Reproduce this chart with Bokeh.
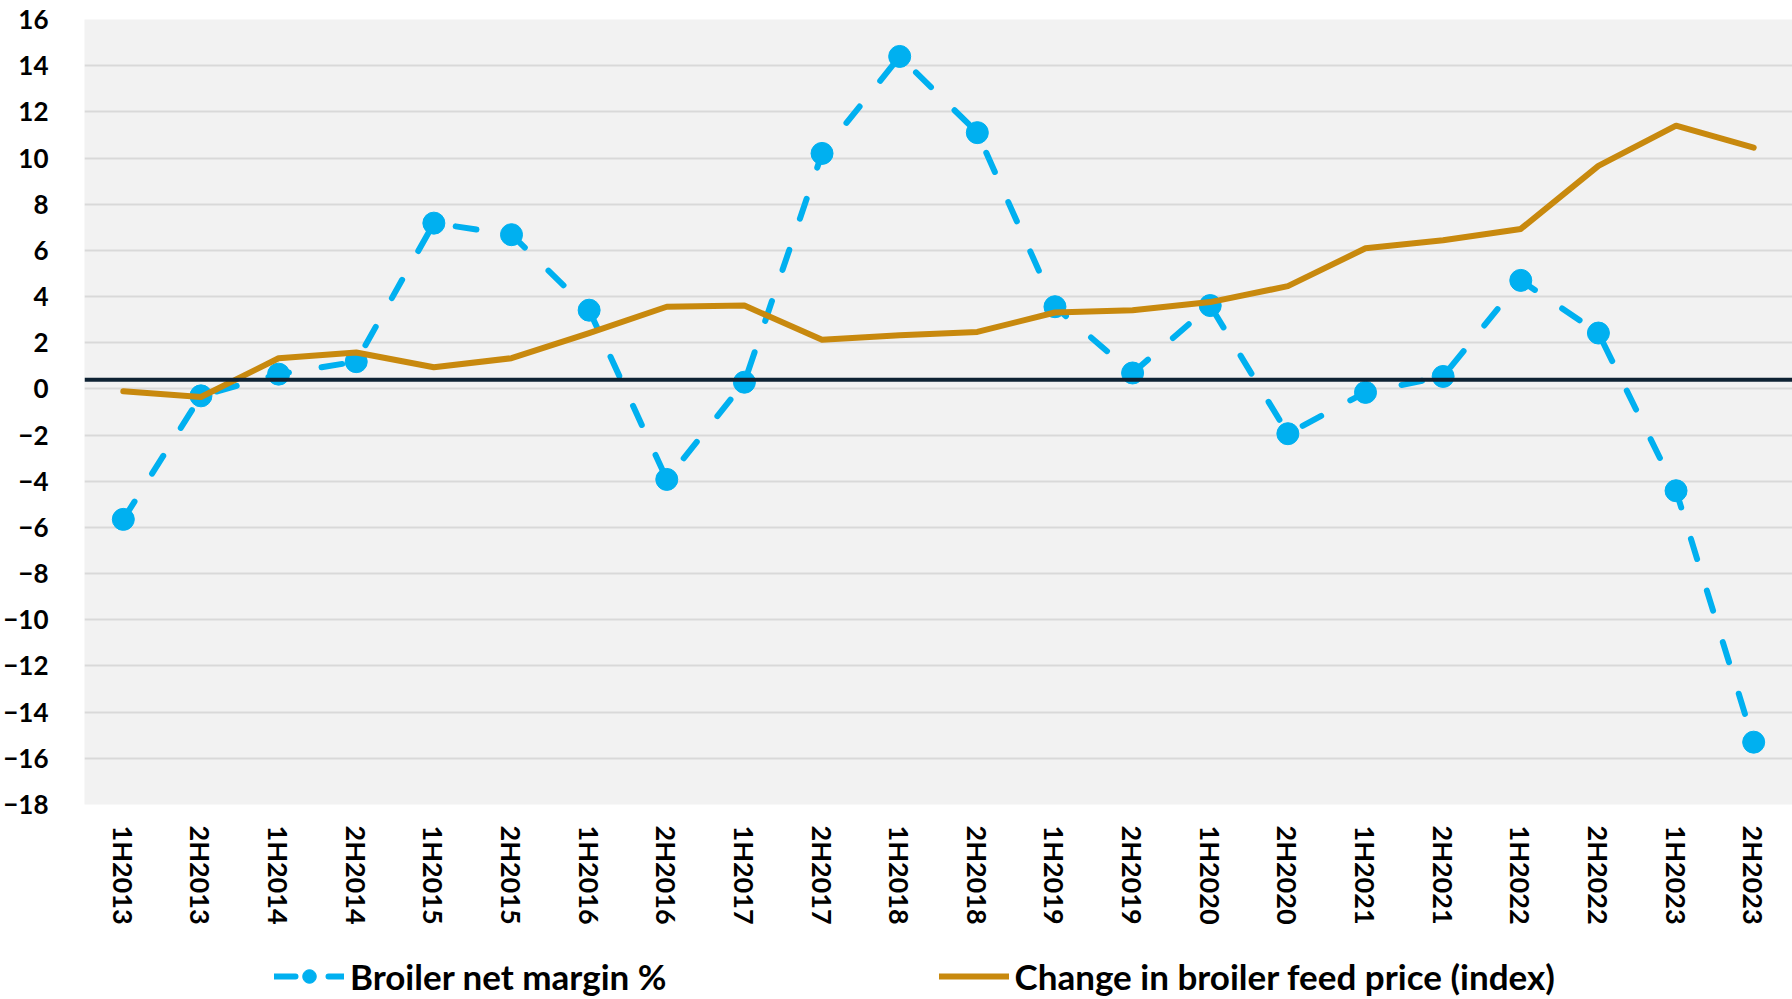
from bokeh.plotting import figure
from bokeh.layouts import column
from bokeh.models import ColumnDataSource, Span, Legend, LegendItem, FactorRange, FixedTicker
from bokeh.embed import file_html
from bokeh.resources import INLINE

periods = ["1H2013", "2H2013", "1H2014", "2H2014", "1H2015", "2H2015", "1H2016", "2H2016",
           "1H2017", "2H2017", "1H2018", "2H2018", "1H2019", "2H2019", "1H2020", "2H2020",
           "1H2021", "2H2021", "1H2022", "2H2022", "1H2023", "2H2023"]
net_margin = [-5.65, -0.3, 0.64, 1.18, 7.18, 6.68, 3.41, -3.92, 0.29, 10.2, 14.4, 11.1,
              3.56, 0.69, 3.61, -1.94, -0.15, 0.54, 4.70, 2.42, -4.41, -15.3]
feed_price = [-0.1, -0.35, 1.33, 1.58, 0.94, 1.33, 2.42, 3.56, 3.61, 2.13, 2.32, 2.47,
              3.31, 3.41, 3.76, 4.45, 6.09, 6.44, 6.93, 9.66, 11.4, 10.45]
reference_level = 0.4
y_ticks = list(range(-18, 17, 2))
series_names = ["Broiler net margin %", "Change in broiler feed price (index)"]

BLUE = "#00B0F0"
ORANGE = "#C8890E"
FONT = "Lato"
DASH = "21 33"

src = ColumnDataSource(dict(period=periods, margin=net_margin, feed=feed_price))

p = figure(frame_width=1708, frame_height=785, x_range=FactorRange(*periods, range_padding=0),
           y_range=(-18, 16), output_backend="svg", toolbar_location=None,
           min_border_left=82, min_border_right=2, min_border_top=19, min_border_bottom=136)
p.background_fill_color = "#F2F2F2"
p.border_fill_color = "white"
p.outline_line_color = None

p.ygrid.ticker = FixedTicker(ticks=y_ticks)
p.yaxis.ticker = FixedTicker(ticks=y_ticks)
p.ygrid.grid_line_color = "#D9D9D9"
p.ygrid.grid_line_width = 2
p.xgrid.grid_line_color = None

for ax in (p.xaxis[0], p.yaxis[0]):
    ax.axis_line_color = None
    ax.major_tick_line_color = None
    ax.minor_tick_line_color = None
    ax.major_label_text_font = FONT
    ax.major_label_text_font_style = "bold"
    ax.major_label_text_color = "black"
p.yaxis.major_label_text_font_size = "26px"
p.yaxis.major_label_standoff = 30
p.xaxis.major_label_text_font_size = "27px"
p.xaxis.major_label_orientation = "vertical"
p.xaxis.major_label_standoff = 15

p.add_layout(Span(location=reference_level, dimension="width", line_color="#0E2233", line_width=4))

p.line("period", "margin", source=src, line_color=BLUE, line_width=6,
       line_dash=DASH, line_cap="round")
p.scatter("period", "margin", source=src, size=22, fill_color=BLUE, line_color=BLUE)
p.line("period", "feed", source=src, line_color=ORANGE, line_width=6, line_join="round",
       line_cap="round")

# legend strip below the chart (renderers hold no drawable data; they only supply legend glyphs)
lg = figure(width=1792, height=59, output_backend="svg", toolbar_location=None,
            min_border=0, x_axis_type=None, y_axis_type=None, x_range=(0, 1), y_range=(0, 1))
lg.outline_line_color = None
lg.grid.visible = False
lg.background_fill_color = "white"
nodata = ColumnDataSource(dict(x=[float("nan")], y=[float("nan")]))
r1 = lg.line("x", "y", source=nodata, line_color=BLUE, line_width=6, line_dash=DASH, line_cap="round")
r2 = lg.scatter("x", "y", source=nodata, size=22, fill_color=BLUE, line_color=BLUE)
r3 = lg.line("x", "y", source=nodata, line_color=ORANGE, line_width=6, line_cap="round")
legend = Legend(items=[LegendItem(label=series_names[0], renderers=[r1, r2]),
                       LegendItem(label=series_names[1], renderers=[r3])],
                orientation="horizontal", location=(190, 2))
legend.label_text_font = FONT
legend.label_text_font_style = "bold"
legend.label_text_font_size = "35px"
legend.label_text_color = "black"
legend.glyph_width = 70
legend.glyph_height = 34
legend.label_standoff = 6
legend.spacing = 272
legend.border_line_color = None
legend.background_fill_alpha = 0
legend.padding = 0
legend.margin = 0
lg.add_layout(legend)

layout = column(p, lg, spacing=0)
open("out.html", "w").write(file_html(layout, INLINE))
